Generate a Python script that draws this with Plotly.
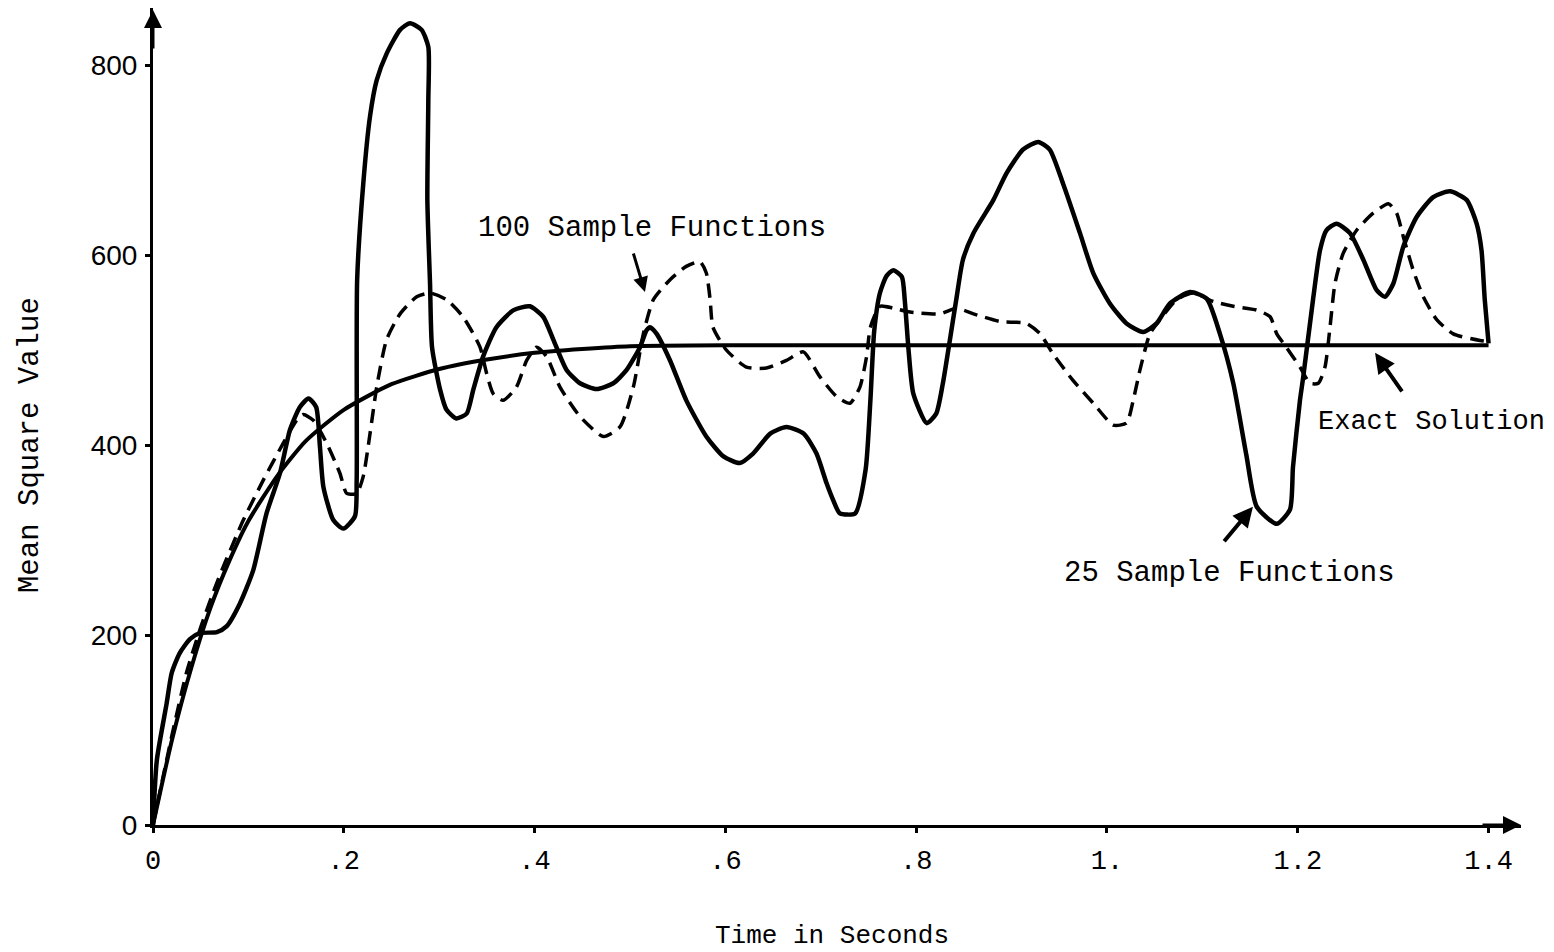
import plotly.graph_objects as go

# ---- data ----
t_exact = [0, 0.02, 0.04, 0.06, 0.08, 0.10, 0.13, 0.16, 0.20, 0.25, 0.30, 0.35,
           0.40, 0.45, 0.50, 0.60, 0.80, 1.00, 1.20, 1.40]
v_exact = [0, 90, 165, 228, 278, 320, 367, 404, 437, 464, 480, 490,
           497, 501, 504, 505, 505, 505, 505, 505]

t_25 = [0, 0.004, 0.0143, 0.0196, 0.028, 0.039, 0.049, 0.067, 0.077, 0.091, 0.105,
        0.119, 0.133, 0.1436, 0.154, 0.163, 0.171, 0.175, 0.1786, 0.189, 0.1995,
        0.2117, 0.2135, 0.2140, 0.2204, 0.2275, 0.2345, 0.2449, 0.259, 0.2694,
        0.2816, 0.2886, 0.2886, 0.2876, 0.2904, 0.2925, 0.301, 0.3077, 0.318,
        0.3288, 0.3357, 0.346, 0.360, 0.378, 0.395, 0.409, 0.4196, 0.4335, 0.4476,
        0.465, 0.4825, 0.4965, 0.5105, 0.5175, 0.521, 0.528, 0.542, 0.559, 0.580,
        0.598, 0.615, 0.629, 0.647, 0.664, 0.682, 0.6955, 0.706, 0.713, 0.720,
        0.736, 0.747, 0.752, 0.756, 0.762, 0.769, 0.776, 0.785, 0.788, 0.792,
        0.797, 0.811, 0.821, 0.828, 0.8354, 0.842, 0.849, 0.860, 0.881, 0.8946,
        0.912, 0.928, 0.940, 0.954, 0.9717, 0.9856, 1.003, 1.0205, 1.038, 1.052,
        1.066, 1.087, 1.1045, 1.1184, 1.1324, 1.146, 1.157, 1.1778, 1.1918, 1.195,
        1.2023, 1.2055, 1.216, 1.2233, 1.230, 1.2406, 1.2547, 1.2687, 1.2827,
        1.2914, 1.3002, 1.3107, 1.3246, 1.342, 1.3595, 1.377, 1.3875, 1.3926,
        1.396, 1.400]
v_25 = [0, 68, 128, 160, 181, 196, 202, 203, 209, 233, 268,
        328, 370, 416, 440, 449, 440, 398, 356, 321, 312,
        325, 363, 574, 675, 746, 784, 812, 837, 844,
        837, 819, 763, 658, 570, 503, 458, 437, 428,
        433, 458, 493, 524, 542, 546, 535, 511, 479, 465,
        459, 465, 479, 503, 521, 524, 517, 489, 447, 409,
        388, 381, 391, 412, 419, 412, 391, 360, 342, 328,
        328, 374, 447, 520, 560, 578, 584, 577, 553, 500,
        454, 423, 433, 465, 511, 553, 595, 623, 658, 686,
        711, 719, 711, 675, 623, 581, 549, 528, 519, 528,
        549, 561, 554, 517, 465, 390, 335, 317, 332, 377,
        447, 470, 553, 605, 626, 633, 623, 595, 563,
        556, 570, 609, 640, 661, 667, 658, 633, 605,
        553, 507]

t_100 = [0, 0.01, 0.02, 0.035, 0.05, 0.065, 0.0737, 0.0947, 0.1156, 0.1366, 0.1506,
         0.1576, 0.168, 0.182, 0.196, 0.203, 0.2135, 0.2204, 0.2275, 0.2345, 0.2449,
         0.259, 0.2764, 0.2904, 0.3077, 0.325, 0.3428, 0.3498, 0.3567, 0.367, 0.381,
         0.3917, 0.402, 0.4126, 0.4266, 0.4476, 0.472, 0.4895, 0.5035, 0.514, 0.5245,
         0.542, 0.559, 0.5734, 0.580, 0.584, 0.587, 0.601, 0.622, 0.643, 0.664,
         0.6817, 0.699, 0.7166, 0.7306, 0.741, 0.748, 0.752, 0.762, 0.776, 0.7935,
         0.825, 0.842, 0.860, 0.888, 0.9155, 0.930, 0.9434, 0.9644, 0.9856, 1.0066,
         1.0205, 1.0275, 1.0346, 1.045, 1.0556, 1.073, 1.0905, 1.1115, 1.1324, 1.157,
         1.171, 1.178, 1.188, 1.2023, 1.2128, 1.2215, 1.2285, 1.2338, 1.239, 1.2477,
         1.2617, 1.279, 1.295, 1.3036, 1.3107, 1.321, 1.3316, 1.3456, 1.363, 1.391,
         1.400]
v_100 = [0, 48, 95, 160, 208, 250, 272, 321, 363, 402, 426,
         432, 426, 402, 370, 349, 349, 367, 412, 461, 511,
         538, 556, 560, 553, 535, 503, 475, 454, 447, 461,
         489, 503, 493, 461, 430, 409, 419, 461, 517, 553,
         574, 588, 593, 581, 553, 524, 500, 482, 481, 489,
         498, 472, 451, 444, 461, 493, 524, 546, 544, 540,
         538, 544, 538, 530, 528, 517, 496, 468, 444, 421,
         423, 447, 479, 517, 532, 553, 560, 551, 546, 542,
         535, 517, 503, 482, 465, 465, 482, 524, 570, 602,
         626, 644, 654, 644, 619, 584, 556, 532, 517, 510,
         509]

x_tickvals = [0, 0.2, 0.4, 0.6, 0.8, 1.0, 1.2, 1.4]
x_ticktext = ["0", ".2", ".4", ".6", ".8", "1.", "1.2", "1.4"]
y_tickvals = [0, 200, 400, 600, 800]
y_ticktext = ["0", "200", "400", "600", "800"]

MONO = "Liberation Mono, DejaVu Sans Mono, monospace"
SANS = "Liberation Sans, Arial, sans-serif"

fig = go.Figure()
fig.add_trace(go.Scatter(x=t_exact, y=v_exact, mode="lines",
                         line=dict(color="black", width=4, shape="spline", smoothing=0.6),
                         name="Exact Solution", showlegend=False))
fig.add_trace(go.Scatter(x=t_100, y=v_100, mode="lines",
                         line=dict(color="black", width=3.5, dash="14px,8px",
                                   shape="spline", smoothing=0.6),
                         name="100 Sample Functions", showlegend=False))
fig.add_trace(go.Scatter(x=t_25, y=v_25, mode="lines",
                         line=dict(color="black", width=4.5, shape="spline", smoothing=0.6),
                         name="25 Sample Functions", showlegend=False))

annotations = [
    # axis arrowheads
    dict(x=0, y=858, xref="x", yref="y", ax=0, ay=40, showarrow=True, arrowhead=2,
         arrowsize=1.2, arrowwidth=3, arrowcolor="black", text=""),
    dict(x=1.434, y=0, xref="x", yref="y", ax=-40, ay=0, showarrow=True, arrowhead=2,
         arrowsize=1.2, arrowwidth=3, arrowcolor="black", text=""),
    # labels
    dict(x=0.523, y=628, xref="x", yref="y", text="100 Sample Functions", showarrow=False,
         font=dict(family=MONO, size=29, color="black")),
    dict(x=1.3407, y=424, xref="x", yref="y", text="Exact Solution", showarrow=False,
         font=dict(family=MONO, size=27, color="black")),
    dict(x=1.128, y=265, xref="x", yref="y", text="25 Sample Functions", showarrow=False,
         font=dict(family=MONO, size=29, color="black")),
    # pointer arrows
    dict(x=0.5157, y=561, xref="x", yref="y", ax=-12, ay=-40, showarrow=True, arrowhead=2,
         arrowsize=1, arrowwidth=3, arrowcolor="black", text=""),
    dict(x=1.281, y=497, xref="x", yref="y", ax=28, ay=40, showarrow=True, arrowhead=2,
         arrowsize=1, arrowwidth=4, arrowcolor="black", text=""),
    dict(x=1.153, y=335, xref="x", yref="y", ax=-30, ay=36, showarrow=True, arrowhead=2,
         arrowsize=1, arrowwidth=4, arrowcolor="black", text=""),
    # axis titles
    dict(x=0.4963, y=-0.1359, xref="paper", yref="paper", text="Time in Seconds",
         xanchor="center", yanchor="middle",
         showarrow=False, font=dict(family=MONO, size=26, color="black")),
    dict(x=-0.0899, y=0.4651, xref="paper", yref="paper", text="Mean Square Value",
         xanchor="center", yanchor="middle",
         showarrow=False, textangle=-90, font=dict(family=MONO, size=29, color="black")),
]

fig.update_layout(
    width=1554, height=952,
    margin=dict(l=153, r=33, t=8, b=127),
    paper_bgcolor="white", plot_bgcolor="white",
    showlegend=False,
    annotations=annotations,
    xaxis=dict(range=[0, 1.434], showgrid=False, zeroline=False, showline=True,
               linecolor="black", linewidth=3, ticks="outside", ticklen=5, tickwidth=3,
               tickcolor="black", tickvals=x_tickvals, ticktext=x_ticktext,
               tickfont=dict(family=MONO, size=27, color="black"),
               ticklabelstandoff=4),
    yaxis=dict(range=[0, 860], showgrid=False, zeroline=False, showline=True,
               linecolor="black", linewidth=3, ticks="outside", ticklen=5, tickwidth=3,
               tickcolor="black", tickvals=y_tickvals, ticktext=y_ticktext,
               tickfont=dict(family=SANS, size=28, color="black"),
               ticklabelstandoff=2),
)

fig.write_html("out.html")
